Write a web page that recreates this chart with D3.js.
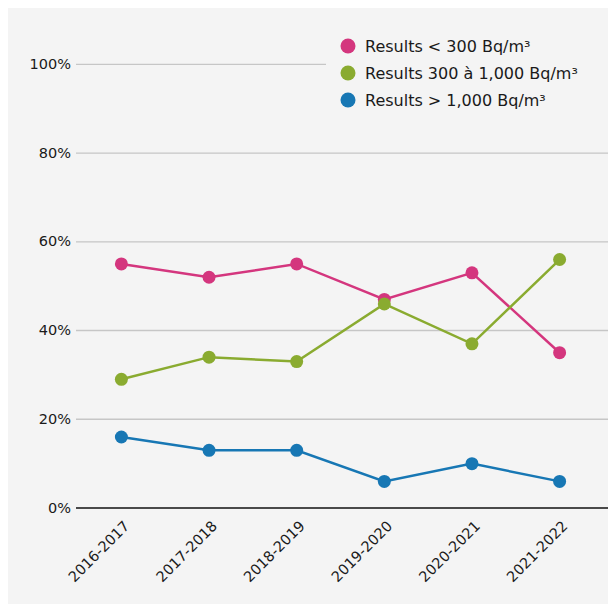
<!DOCTYPE html>
<html>
<head>
<meta charset="utf-8">
<title>Radon results</title>
<style>
  html, body { margin: 0; padding: 0; background: #fff; }
  svg { display: block; }
  text { font-family: "DejaVu Sans", "Open Sans", sans-serif; fill: #1a1a1a; }
</style>
</head>
<body>
<div id="chart"></div>
<script src="https://cdnjs.cloudflare.com/ajax/libs/d3/7.8.5/d3.min.js"></script>
<script>
  var years = ['2016-2017', '2017-2018', '2018-2019', '2019-2020', '2020-2021', '2021-2022'];
  var below300 = [55, 52, 55, 47, 53, 35];
  var from300to1000 = [29, 34, 33, 46, 37, 56];
  var above1000 = [16, 13, 13, 6, 10, 6];
  var seriesNames = ['Results < 300 Bq/m³', 'Results 300 à 1,000 Bq/m³', 'Results > 1,000 Bq/m³'];
  var seriesColors = ['#d4367e', '#8aab30', '#1777b4'];
  var yTicks = [0, 20, 40, 60, 80, 100];

  var series = [below300, from300to1000, above1000].map(function(vals, i) {
    return { name: seriesNames[i], color: seriesColors[i], values: vals };
  });

  var W = 608, H = 606;
  var plotLeft = 76, plotRight = 608, plotTop = 64.3, plotBottom = 508;

  var svg = d3.select('#chart').append('svg')
    .attr('width', W)
    .attr('height', H);

  // panel background
  svg.append('rect')
    .attr('x', 8).attr('y', 8)
    .attr('width', W - 8).attr('height', 596)
    .attr('fill', '#f4f4f4');

  // points sit a little left of the band centres in the original
  var x = d3.scalePoint().domain(years).range([plotLeft - 1.5, plotRight - 1.5]).padding(0.535);
  var y = d3.scaleLinear().domain([0, 100]).range([plotBottom, plotTop]);

  // gridlines
  svg.append('g').selectAll('line')
    .data(yTicks.filter(function(d) { return d > 0; }))
    .enter().append('line')
    .attr('x1', plotLeft).attr('x2', plotRight)
    .attr('y1', function(d) { return y(d); })
    .attr('y2', function(d) { return y(d); })
    .attr('stroke', '#c6c6c6')
    .attr('stroke-width', 1.3);

  // baseline
  svg.append('line')
    .attr('x1', plotLeft).attr('x2', plotRight)
    .attr('y1', y(0)).attr('y2', y(0))
    .attr('stroke', '#111')
    .attr('stroke-width', 1.5);

  // y labels
  svg.append('g').selectAll('text')
    .data(yTicks)
    .enter().append('text')
    .attr('x', plotLeft - 5)
    .attr('y', function(d) { return y(d); })
    .attr('dy', '0.32em')
    .attr('text-anchor', 'end')
    .style('font-size', '14.5px')
    .text(function(d) { return d + '%'; });

  // x labels
  svg.append('g').selectAll('text')
    .data(years)
    .enter().append('text')
    .attr('transform', function(d) { return 'translate(' + (x(d) + 9) + ',' + (plotBottom + 19) + ') rotate(-45)'; })
    .attr('text-anchor', 'end')
    .style('font-size', '14.5px')
    .text(function(d) { return d; });

  var line = d3.line()
    .x(function(d, i) { return x(years[i]); })
    .y(function(d) { return y(d); });

  var groups = svg.append('g').selectAll('g')
    .data(series)
    .enter().append('g');

  groups.append('path')
    .attr('d', function(s) { return line(s.values); })
    .attr('fill', 'none')
    .attr('stroke', function(s) { return s.color; })
    .attr('stroke-width', 2.5);

  groups.selectAll('circle')
    .data(function(s) { return s.values.map(function(v, i) { return { v: v, i: i, color: s.color }; }); })
    .enter().append('circle')
    .attr('cx', function(d) { return x(years[d.i]); })
    .attr('cy', function(d) { return y(d.v); })
    .attr('r', 6.5)
    .attr('fill', function(d) { return d.color; });

  // legend
  var legend = svg.append('g');
  legend.append('rect')
    .attr('x', 326).attr('y', 30)
    .attr('width', 282).attr('height', 86)
    .attr('fill', '#f4f4f4');

  var items = legend.selectAll('g')
    .data(series)
    .enter().append('g')
    .attr('transform', function(d, i) { return 'translate(348,' + (46 + i * 27) + ')'; });

  items.append('circle')
    .attr('r', 7.5)
    .attr('fill', function(d) { return d.color; });

  items.append('text')
    .attr('x', 17)
    .attr('dy', '0.36em')
    .style('font-size', '16px')
    .text(function(d) { return d.name; });
</script>
</body>
</html>
